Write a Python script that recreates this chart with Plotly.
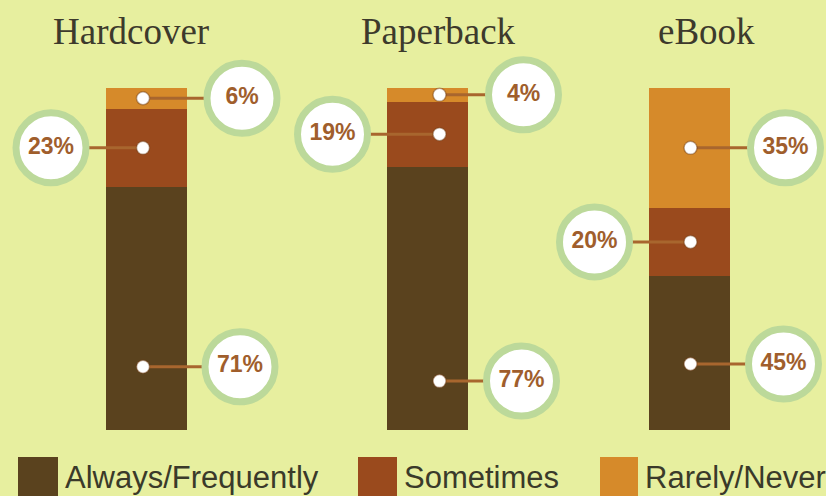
import plotly.graph_objects as go

# ---- data ----
categories = ["Hardcover", "Paperback", "eBook"]
series_names = ["Always/Frequently", "Sometimes", "Rarely/Never"]
always = [71, 77, 45]
sometimes = [23, 19, 20]
rarely = [6, 4, 35]

# ---- styling / layout placements ----
W, H = 826, 496
BAR_BOTTOM_PX, BAR_TOP_PX = 430, 88
PX_PER_UNIT = (BAR_BOTTOM_PX - BAR_TOP_PX) / 100.0
bar_x = [146, 427.5, 689.5]          # bar centres (pixel-like x axis)
bar_w = 81
title_x = [131, 438, 706]
dot_dx = [-3, 12, 1]
circle_dx = {"Always/Frequently": 94, "Sometimes": -95, "Rarely/Never": 96}
always_label_pos = [18.5, 14.3, 19.3]   # where the bottom-segment callouts sit
colors = {"Always/Frequently": "#5A421E", "Sometimes": "#9A4A1D", "Rarely/Never": "#D68A2A"}
bg = "#E7EF9F"
ring = "#BCD99A"
label_color = "#A05E2C"
line_color = "#A8662E"

fig = go.Figure()

series_vals = {"Always/Frequently": always, "Sometimes": sometimes, "Rarely/Never": rarely}
for name in series_names:
    fig.add_trace(go.Bar(
        x=bar_x, y=series_vals[name], width=bar_w, name=name,
        marker=dict(color=colors[name], line=dict(width=0)),
        showlegend=False, hoverinfo="skip",
    ))

# callout positions
lx, ly, dx_list, dy_list, cx_list, cy_list, texts = [], [], [], [], [], [], []
for i in range(len(categories)):
    a, s, r = always[i], sometimes[i], rarely[i]
    pos = {
        "Always/Frequently": always_label_pos[i],
        "Sometimes": a + s / 2.0,
        "Rarely/Never": a + s + r / 2.0,
    }
    vals = {"Always/Frequently": a, "Sometimes": s, "Rarely/Never": r}
    for name in series_names:
        yv = pos[name]
        dxp = bar_x[i] + dot_dx[i]
        cxp = bar_x[i] + circle_dx[name]
        lx += [dxp, cxp, None]
        ly += [yv, yv, None]
        dx_list.append(dxp)
        dy_list.append(yv)
        cx_list.append(cxp)
        cy_list.append(yv)
        texts.append(f"{vals[name]}%")

fig.add_trace(go.Scatter(x=lx, y=ly, mode="lines",
                         line=dict(color=line_color, width=3),
                         showlegend=False, hoverinfo="skip"))
fig.add_trace(go.Scatter(x=dx_list, y=dy_list, mode="markers",
                         marker=dict(size=13, color="white",
                                     line=dict(width=1.5, color="rgba(110,60,20,0.45)")),
                         showlegend=False, hoverinfo="skip"))
fig.add_trace(go.Scatter(x=cx_list, y=cy_list, mode="markers+text", text=texts,
                         textposition="middle center",
                         textfont=dict(family="Liberation Sans, Arial, sans-serif",
                                       size=23, color=label_color, weight="bold"),
                         marker=dict(size=70, color="white", line=dict(width=7, color=ring)),
                         showlegend=False, hoverinfo="skip"))

# titles
for i, c in enumerate(categories):
    fig.add_annotation(x=title_x[i], xref="x", y=1 - 32 / H, yref="paper",
                       text=c, showarrow=False, xanchor="center", yanchor="middle",
                       font=dict(family="Liberation Serif, Times New Roman, serif",
                                 size=37, color="#3D3A2C"))

# custom legend
legend_sq = [(18, 58), (358, 397), (600, 638)]
legend_text_x = [63, 402, 643]
shapes = []
for (x0, x1), tx, name in zip(legend_sq, legend_text_x, series_names):
    y0p, y1p = 457, 500
    shapes.append(dict(type="rect", xref="x", yref="paper",
                       x0=x0, x1=x1, y0=1 - y1p / H, y1=1 - y0p / H,
                       fillcolor=colors[name], line=dict(width=0), layer="above"))
    fig.add_annotation(x=tx, xref="x", y=1 - 477 / H, yref="paper", text=name,
                       showarrow=False, xanchor="left", yanchor="middle",
                       font=dict(family="Liberation Sans, Arial, sans-serif",
                                 size=31, color="#3A3A2A"))

y_lo = -(H - BAR_BOTTOM_PX) / PX_PER_UNIT
y_hi = BAR_BOTTOM_PX / PX_PER_UNIT

fig.update_layout(
    width=W, height=H, autosize=False,
    margin=dict(l=0, r=0, t=0, b=0),
    paper_bgcolor=bg, plot_bgcolor=bg,
    barmode="stack", bargap=0,
    shapes=shapes,
    xaxis=dict(range=[0, W], visible=False, fixedrange=True),
    yaxis=dict(range=[y_lo, y_hi], visible=False, fixedrange=True),
    showlegend=False,
)

fig.write_html("out.html", config={"displayModeBar": False},
               post_script="document.body.style.margin='0';document.body.style.overflow='hidden';")
